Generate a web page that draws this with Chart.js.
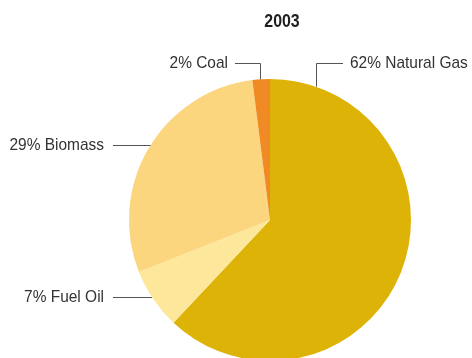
<!DOCTYPE html>
<html>
<head>
<meta charset="utf-8">
<script src="https://cdn.jsdelivr.net/npm/chart.js@4.4.0/dist/chart.umd.min.js"></script>
<style>
  html, body { margin: 0; padding: 0; background: #fff; overflow: hidden; }
  #wrap { position: relative; width: 472px; height: 380px; }
</style>
</head>
<body>
<div id="wrap"><canvas id="mixChart"></canvas></div>
<script>
const year = '2003';
const fuels = ['Natural Gas', 'Fuel Oil', 'Biomass', 'Coal'];
const shares = [62, 7, 29, 2];
const fuelColors = ['#DDB307', '#FDE79B', '#FCD67F', '#F08A25'];

const labelFont = '17px "Liberation Sans", sans-serif';
const titleFont = 'bold 17.5px "Liberation Sans", sans-serif';
const squeeze = 0.91; // narrow the glyphs a little, no condensed face is available

// where each callout sits: elbows hang from the rim at column x, straight ones meet the rim at row y
const callouts = [
  { index: 0, kind: 'elbow', x: 316, y: 63, dir: 1, len: 27 },
  { index: 3, kind: 'elbow', x: 260, y: 63, dir: -1, len: 25 },
  { index: 2, kind: 'straight', y: 145, start: 113 },
  { index: 1, kind: 'straight', y: 297, start: 113 }
];

function narrowText(ctx, text, x, y, align) {
  ctx.save();
  ctx.translate(x, y);
  ctx.scale(squeeze, 1);
  ctx.textAlign = align;
  ctx.fillText(text, 0, 0);
  ctx.restore();
}

const calloutPlugin = {
  id: 'callouts',
  afterDatasetsDraw(chart) {
    const ctx = chart.ctx;
    const arcs = chart.getDatasetMeta(0).data;
    ctx.save();
    ctx.strokeStyle = '#555';
    ctx.lineWidth = 1;
    ctx.fillStyle = '#333';
    ctx.font = labelFont;
    ctx.textBaseline = 'middle';

    callouts.forEach(c => {
      const arc = arcs[c.index];
      const { x, y, outerRadius: r } = arc.getProps(['x', 'y', 'outerRadius'], true);
      const text = shares[c.index] + '% ' + fuels[c.index];
      ctx.beginPath();
      if (c.kind === 'elbow') {
        const rimY = y - Math.sqrt(r * r - (c.x - x) ** 2);
        const endX = c.x + c.dir * c.len;
        ctx.moveTo(c.x + 0.5, rimY);
        ctx.lineTo(c.x + 0.5, c.y + 0.5);
        ctx.lineTo(endX, c.y + 0.5);
        ctx.stroke();
        narrowText(ctx, text, endX + c.dir * 7, c.y, c.dir > 0 ? 'left' : 'right');
      } else {
        const rimX = x - Math.sqrt(r * r - (c.y - y) ** 2);
        ctx.moveTo(c.start, c.y + 0.5);
        ctx.lineTo(rimX, c.y + 0.5);
        ctx.stroke();
        narrowText(ctx, text, c.start - 9, c.y, 'right');
      }
    });

    // year heading
    ctx.font = titleFont;
    ctx.fillStyle = '#1e1e1e';
    narrowText(ctx, year, 282, 22, 'center');
    ctx.restore();
  }
};

new Chart(document.getElementById('mixChart'), {
  type: 'pie',
  data: {
    labels: fuels,
    datasets: [{
      data: shares,
      backgroundColor: fuelColors,
      borderWidth: 0
    }]
  },
  options: {
    responsive: true,
    maintainAspectRatio: false,
    animation: false,
    layout: { padding: { left: 129, right: 61, top: 79, bottom: 19 } },
    plugins: {
      legend: { display: false },
      tooltip: { enabled: false }
    }
  },
  plugins: [calloutPlugin]
});
</script>
</body>
</html>
